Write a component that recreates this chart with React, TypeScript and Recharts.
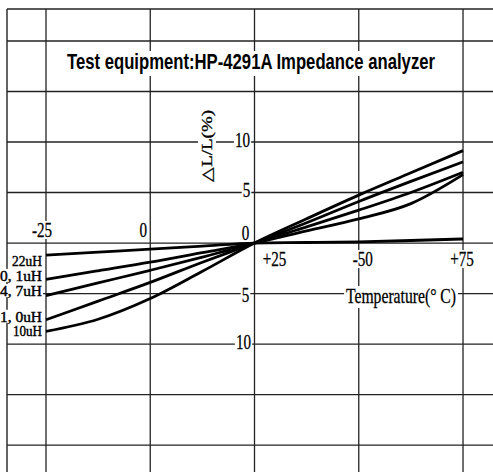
import React from "react";
import { LineChart, Line, XAxis, YAxis, ReferenceLine, ReferenceDot } from "recharts";

// temperature points (°C) and ΔL/L (%)
const temps = [-25, -12.5, 0, 12.5, 25, 37.5, 50, 62.5, 75];
const l22uH = [-1.2, -0.9, -0.6, -0.3, 0, 0.05, 0.12, 0.25, 0.4];
const l01uH = [-3.6, -2.75, -1.9, -0.95, 0, 1.2, 2.39, 3.9, 6.77];
const l47uH = [-5.2, -3.95, -2.7, -1.4, 0, 1.6, 3.25, 5.0, 7.0];
const l10uH1 = [-7.6, -5.75, -3.9, -1.9, 0, 2.0, 4.11, 6.1, 8.03];
const l10uH = [-8.75, -7.55, -5.5, -2.8, 0, 2.4, 4.74, 6.95, 9.15];
const seriesNames = ["22uH", "0, 1uH", "4, 7uH", "1, 0uH", "10uH"];
const seriesValues = [l22uH, l01uH, l47uH, l10uH1, l10uH];

const xGrid = [-25, 0, 25, 50, 75];
const yGrid = [20, 15, 10, 5, 0, -5, -10, -15, -20];
const xTickText = ["-25", "0", "+25", "-50", "+75"];
const yTickValues = [10, 5, 0, -5, -10];
const yTickText = ["10", "5", "0", "5", "10"];

const X_DOMAIN = [-34.35, 82.19];
const Y_DOMAIN = [-22.67, 23.17];
const AXIS_T = 25;

// label offsets (px) from the point each label hangs on
const xTickOffset = [
  { dx: -4, dy: -13 },
  { dx: -7, dy: -13 },
  { dx: 20, dy: 16 },
  { dx: 4, dy: 16 },
  { dx: -1, dy: 16 },
];
const yTickOffset = [
  { dx: -12, dy: -2 },
  { dx: -8, dy: -3 },
  { dx: -9, dy: -10 },
  { dx: -9, dy: 1 },
  { dx: -11, dy: -2 },
];
const legendWidth = [30, 42, 42, 42, 29];
const legendDy = [6, -3.5, -4.5, -3, 0];

const rows = temps.map((t, i) => {
  const r: Record<string, number> = { t };
  seriesValues.forEach((s, k) => (r["s" + k] = s[i]));
  return r;
});

const serif = "'Liberation Serif', 'Times New Roman', serif";

function Tag({ cx, cy, text, dx, dy }: { cx: number; cy: number; text: string; dx: number; dy: number }) {
  const w = text.length * 7.6 + 2;
  return (
    <g transform={`translate(${cx + dx},${cy + dy})`}>
      <rect x={-w / 2} y={-9} width={w} height={18} fill="#fff" />
      <text
        transform="scale(0.72,1)"
        textAnchor="middle"
        dy={7}
        fontFamily={serif}
        fontSize={21}
        fill="#000"
        stroke="#000"
        strokeWidth={0.3}
      >
        {text}
      </text>
    </g>
  );
}

function LegendTag({ cx, cy, text, width }: { cx: number; cy: number; text: string; width: number }) {
  const right = cx - 4;
  return (
    <g>
      <rect x={right - width - 1} y={cy - 7} width={width + 2} height={13} fill="#fff" />
      <text
        x={right - width}
        y={cy + 5}
        textLength={width}
        lengthAdjust="spacingAndGlyphs"
        fontFamily={serif}
        fontSize={15.5}
        fill="#000"
        stroke="#000"
        strokeWidth={0.45}
      >
        {text}
      </text>
    </g>
  );
}

export default function App() {
  return (
    <div style={{ position: "absolute", left: 0, top: 0, width: 493, height: 472, background: "#fff", overflow: "hidden" }}>
      <LineChart width={493} height={472} data={rows} margin={{ top: 9, left: 7, right: 0, bottom: 0 }}>
        <XAxis dataKey="t" type="number" domain={X_DOMAIN} allowDataOverflow hide />
        <YAxis type="number" domain={Y_DOMAIN} allowDataOverflow hide />
        <ReferenceLine y={Y_DOMAIN[1]} stroke="#222" strokeWidth={1.4} />
        <ReferenceLine x={X_DOMAIN[0]} stroke="#222" strokeWidth={1.4} />
        {xGrid.map((v) => (
          <ReferenceLine key={"vx" + v} x={v} stroke="#222" strokeWidth={1.3} />
        ))}
        {yGrid.map((v) => (
          <ReferenceLine key={"hy" + v} y={v} stroke="#222" strokeWidth={1.3} />
        ))}
        {seriesValues.map((_, k) => (
          <Line
            key={"s" + k}
            dataKey={"s" + k}
            type="monotone"
            stroke="#000"
            strokeWidth={2.8}
            dot={false}
            isAnimationActive={false}
          />
        ))}
        {xGrid.map((v, i) => (
          <ReferenceDot
            key={"xt" + v}
            x={v}
            y={0}
            r={1}
            shape={(p: any) => <Tag cx={p.cx} cy={p.cy} text={xTickText[i]} {...xTickOffset[i]} />}
          />
        ))}
        {yTickValues.map((v, i) => (
          <ReferenceDot
            key={"yt" + i}
            x={AXIS_T}
            y={v}
            r={1}
            shape={(p: any) => <Tag cx={p.cx} cy={p.cy} text={yTickText[i]} {...yTickOffset[i]} />}
          />
        ))}
        {seriesNames.map((name, k) => (
          <ReferenceDot
            key={"lg" + k}
            x={temps[0]}
            y={seriesValues[k][0]}
            r={1}
            shape={(p: any) => <LegendTag cx={p.cx} cy={p.cy + legendDy[k]} text={name} width={legendWidth[k]} />}
          />
        ))}
      </LineChart>
      <svg width={493} height={472} style={{ position: "absolute", left: 0, top: 0, pointerEvents: "none" }}>
        <rect x={64} y={51} width={374} height={25} fill="#fff" />
        <text
          x={67}
          y={69}
          textLength={368}
          lengthAdjust="spacingAndGlyphs"
          fontFamily="'Liberation Sans', Arial, sans-serif"
          fontWeight="bold"
          fontSize={22}
          fill="#000"
        >
          Test equipment:HP-4291A Impedance analyzer
        </text>
        <g transform="translate(207,146) rotate(-90)">
          <rect x={-38} y={-9} width={76} height={18} fill="#fff" />
          <text
            x={-36}
            y={5}
            textLength={72}
            lengthAdjust="spacingAndGlyphs"
            fontFamily={serif}
            fontSize={15}
            fill="#000"
            stroke="#000"
            strokeWidth={0.3}
          >
            △L/L(%)
          </text>
        </g>
        <rect x={344} y={286} width={114} height={22} fill="#fff" />
        <text
          x={346}
          y={303}
          textLength={110}
          lengthAdjust="spacingAndGlyphs"
          fontFamily={serif}
          fontSize={21}
          fill="#000"
          stroke="#000"
          strokeWidth={0.3}
        >
          Temperature(° C)
        </text>
      </svg>
    </div>
  );
}
